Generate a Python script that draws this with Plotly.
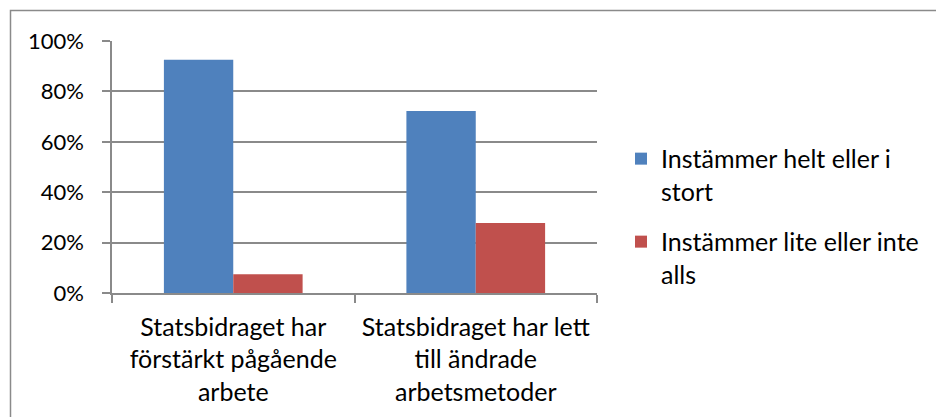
import plotly.graph_objects as go

categories = ["Statsbidraget har förstärkt pågående arbete",
              "Statsbidraget har lett till ändrade arbetsmetoder"]
category_ticktext = ["Statsbidraget har<br>förstärkt pågående<br>arbete",
                     "Statsbidraget har lett<br>till ändrade<br>arbetsmetoder"]
series_names = ["Instämmer helt eller i<br>stort", "Instämmer lite eller inte<br>alls"]
series_values = [[0.926, 0.722], [0.074, 0.278]]
series_colors = ["#4F81BD", "#C0504D"]
y_ticks = [0, 0.2, 0.4, 0.6, 0.8, 1.0]

W, H = 936, 417
L, R, T, B = 112, 339, 41, 124
FONT = "Lato"
FS = 25

fig = go.Figure()
for i, (name, vals, col) in enumerate(zip(series_names, series_values, series_colors)):
    fig.add_trace(go.Bar(x=categories, y=vals, name=name, marker_color=col,
                         marker_line_width=0, legendgroup=str(i)))

fig.update_layout(
    width=W, height=H, margin=dict(l=L, r=R, t=T, b=B),
    paper_bgcolor="white", plot_bgcolor="white",
    barmode="group", bargap=0.428, bargroupgap=0,
    font=dict(family=FONT, size=FS, color="black"),
    showlegend=True,
    legend=dict(x=1.0495, xanchor="left", y=0.304, yanchor="middle", valign="top",
                tracegroupgap=15, font=dict(family=FONT, size=FS)),
)
fig.update_yaxes(range=[0, 1], tickvals=y_ticks, tickformat=".0%",
                 tickfont=dict(family=FONT, size=22),
                 showgrid=True, gridcolor="#8a8a8a", gridwidth=1.5,
                 showline=True, linecolor="#8a8a8a", linewidth=1.5,
                 ticks="outside", ticklen=8, tickcolor="#8a8a8a", tickwidth=1.5,
                 ticklabelstandoff=14, zeroline=False)
fig.update_xaxes(tickvals=categories, ticktext=category_ticktext,
                 tickson="boundaries", ticks="outside",
                 ticklen=8, tickcolor="#8a8a8a", tickwidth=1.5,
                 showline=True, linecolor="#8a8a8a", linewidth=1.5, showgrid=False,
                 ticklabelstandoff=11,
                 tickfont=dict(family=FONT, size=FS))

# outer chart border (top-left at 10,10; runs off right and bottom)
pw, ph = W - L - R, H - T - B
def px_x(px):
    return (px - L) / pw
def px_y(py):
    return (H - B - py) / ph
fig.add_shape(type="rect", xref="paper", yref="paper",
              x0=px_x(10.5), x1=px_x(W + 20), y0=px_y(H + 20), y1=px_y(10.5),
              line=dict(color="#8a8a8a", width=1.5), fillcolor="rgba(0,0,0,0)", layer="below")

fig.write_html("out.html", config={"displayModeBar": False},
               post_script="document.body.style.margin='0';document.body.style.overflow='hidden';")
